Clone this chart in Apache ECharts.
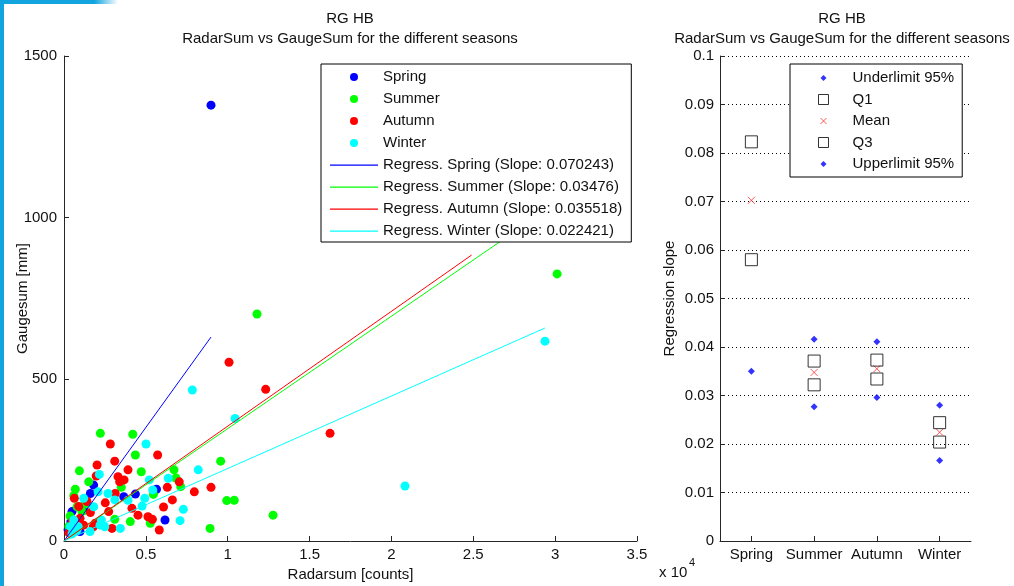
<!DOCTYPE html>
<html>
<head>
<meta charset="utf-8">
<script src="https://cdn.jsdelivr.net/npm/echarts@6/dist/echarts.min.js"></script>
<style>
html,body{margin:0;padding:0;background:#fff;}
#chart{width:1014px;height:586px;}
</style>
</head>
<body>
<div id="chart"></div>
<script>
// ---------- DATA ----------
const seasons = ['Spring', 'Summer', 'Autumn', 'Winter'];
const seasonColors = ['#0000ff', '#00ff00', '#ff0000', '#00ffff'];

// RadarSum [counts], GaugeSum [mm]
const springPts = [[8980,1348],[1810,173],[1610,147],[5650,160],[4360,145],[3650,137],[490,91],[6170,65],[980,29],[250,35],[420,60],[1200,95]];
const summerPts = [[30120,826],[11790,702],[12770,80],[2220,333],[4200,330],[4360,266],[940,217],[4720,214],[1510,183],[3500,166],[690,160],[9570,247],[6720,220],[6840,195],[7130,168],[5460,144],[9940,125],[10400,126],[8920,39],[1100,91],[3100,67],[4050,60],[5270,55],[800,106],[1280,114],[370,77],[600,140],[300,45]];
const autumnPts = [[10080,553],[12320,469],[16250,333],[2830,300],[5720,266],[3100,247],[2020,235],[3910,220],[1970,201],[3300,199],[3670,189],[3400,183],[3130,147],[630,132],[2520,118],[900,107],[1405,122],[4150,101],[6080,105],[1610,88],[2730,91],[4520,80],[5130,75],[5400,67],[1200,49],[1910,55],[2930,39],[5820,34],[7040,183],[6310,166],[8980,166],[7960,152],[6620,127],[980,70],[1790,44],[300,25],[500,60]];
const winterPts = [[29380,618],[20830,170],[7840,467],[10450,379],[5010,300],[2160,206],[5210,189],[2080,152],[2690,147],[5420,158],[1200,132],[3100,127],[3910,126],[4930,132],[1810,106],[4770,108],[590,65],[2280,65],[2490,44],[3440,39],[795,34],[8200,220],[6370,194],[7290,98],[7090,63],[400,45],[870,44],[1590,29],[490,22],[2200,49]];

// regression slopes and the RadarSum where each regression line ends
const slopes = [0.070243, 0.03476, 0.035518, 0.022421];
const lineEndX = [8980, 30120, 24900, 29380];

// Right panel: regression slope statistics per season
const underLimit = [0.0350, 0.0277, 0.0296, 0.0166];
const q1 = [0.0580, 0.0322, 0.0334, 0.0204];
const meanSlope = slopes;
const q3 = [0.0823, 0.0371, 0.0373, 0.0244];
const upperLimit = [0.1054, 0.0416, 0.0411, 0.0280];

// axis ticks
const xTicks = { min: 0, max: 35000, step: 5000 };
const yTicks = { min: 0, max: 1500, step: 500 };
const slopeTicks = { min: 0, max: 0.1, step: 0.01 };

// ---------- CHART ----------
const FONT = "'Liberation Sans', Arial, Helvetica, sans-serif";
const TXT = '#111';
const AX = '#262626';
const chart = echarts.init(document.getElementById('chart'), null, { renderer: 'canvas' });

const scatterSets = [springPts, summerPts, autumnPts, winterPts];
const regNames = seasons.map((s, i) => 'Regress. ' + s + ' (Slope: ' + slopes[i] + ')');

const series = [];
scatterSets.forEach((pts, i) => {
  series.push({
    name: seasons[i], type: 'scatter', xAxisIndex: 0, yAxisIndex: 0,
    data: pts, symbol: 'circle', symbolSize: 9,
    itemStyle: { color: seasonColors[i], opacity: 1 },
    emphasis: { disabled: true }
  });
});
slopes.forEach((s, i) => {
  series.push({
    name: regNames[i], type: 'line', xAxisIndex: 0, yAxisIndex: 0,
    data: [[0, 0], [lineEndX[i], s * lineEndX[i]]],
    showSymbol: false, symbol: 'none',
    lineStyle: { color: seasonColors[i], width: 1 },
    itemStyle: { color: seasonColors[i] },
    emphasis: { disabled: true }
  });
});

const dotIcon = 'path://M0,0M12,12M6,3L9,6L6,9L3,6Z';
const sqIcon = 'path://M0,0M12,12M1,1L11,1L11,11L1,11Z';
const xIcon = 'path://M0,0M12,12M3,3L9,9M9,3L3,9';
const lineIcon = 'path://M0,0M48,8M0,3.5L48,3.5L48,4.7L0,4.7Z';

const statDefs = [
  { name: 'Underlimit 95%', data: underLimit, symbol: 'diamond', size: 7, style: { color: '#0000ff' }, icon: dotIcon },
  { name: 'Q1', data: q1, symbol: 'rect', size: 12, style: { color: 'transparent', borderColor: '#000', borderWidth: 1 }, icon: sqIcon },
  { name: 'Mean', data: meanSlope, symbol: 'path://M0,0L10,10M10,0L0,10', size: 7, style: { color: 'transparent', borderColor: '#ff3030', borderWidth: 1 }, icon: xIcon },
  { name: 'Q3', data: q3, symbol: 'rect', size: 12, style: { color: 'transparent', borderColor: '#000', borderWidth: 1 }, icon: sqIcon },
  { name: 'Upperlimit 95%', data: upperLimit, symbol: 'diamond', size: 7, style: { color: '#0000ff' }, icon: dotIcon }
];
statDefs.forEach(d => {
  series.push({
    name: d.name, type: 'scatter', xAxisIndex: 1, yAxisIndex: 1,
    data: d.data, symbol: d.symbol, symbolSize: d.size, clip: true,
    itemStyle: d.style, emphasis: { disabled: true }
  });
});

const axisCommon = {
  axisLine: { show: true, onZero: false, lineStyle: { color: AX, width: 1 } },
  axisTick: { show: true, inside: true, length: 5, lineStyle: { color: AX, width: 1 } },
  axisLabel: { color: TXT, fontSize: 15, fontFamily: FONT, margin: 6, formatter: v => String(v) },
  nameTextStyle: { color: TXT, fontSize: 15, fontFamily: FONT },
  nameMoveOverlap: false,
  splitLine: { show: false },
  minorTick: { show: false }
};

const option = {
  animation: false,
  backgroundColor: '#fff',
  textStyle: { fontFamily: FONT },
  grid: [
    { left: 64, top: 56, width: 573, height: 485, containLabel: false, outerBoundsMode: 'none' },
    { left: 720, top: 56, width: 251, height: 485, containLabel: false, outerBoundsMode: 'none' }
  ],
  xAxis: [
    Object.assign({}, axisCommon, {
      type: 'value', gridIndex: 0, min: xTicks.min, max: xTicks.max, interval: xTicks.step,
      name: 'Radarsum [counts]', nameLocation: 'middle', nameGap: 26,
      axisLabel: Object.assign({}, axisCommon.axisLabel, { formatter: v => String(v / 10000) })
    }),
    Object.assign({}, axisCommon, {
      type: 'category', gridIndex: 1, data: seasons, boundaryGap: true,
      axisTick: Object.assign({}, axisCommon.axisTick, { alignWithLabel: true }),
      axisLabel: { color: TXT, fontSize: 15, fontFamily: FONT, margin: 6, interval: 0 }
    })
  ],
  yAxis: [
    Object.assign({}, axisCommon, {
      type: 'value', gridIndex: 0, min: yTicks.min, max: yTicks.max, interval: yTicks.step,
      name: 'Gaugesum [mm]', nameLocation: 'middle', nameGap: 34, nameRotate: 90,
      axisLabel: Object.assign({}, axisCommon.axisLabel, { margin: 7 })
    }),
    Object.assign({}, axisCommon, {
      type: 'value', gridIndex: 1, min: slopeTicks.min, max: slopeTicks.max, interval: slopeTicks.step,
      name: 'Regression slope', nameLocation: 'middle', nameGap: 43, nameRotate: 90,
      splitLine: { show: true, lineStyle: { color: '#000', width: 1, type: [1, 3] } }
    })
  ],
  legend: [
    {
      orient: 'vertical', left: 321, top: 64,
      itemWidth: 48, itemHeight: 8, itemGap: 6,
      padding: [5, 9, 3, 9],
      borderColor: '#000', borderWidth: 1, borderRadius: 0, backgroundColor: '#fff',
      selectedMode: false, z: 10,
      textStyle: { color: TXT, fontSize: 15, fontFamily: FONT, lineHeight: 16 },
      data: seasons.map((s, i) => ({ name: s, icon: 'circle', itemStyle: { color: seasonColors[i] } }))
        .concat(regNames.map((n, i) => ({ name: n, icon: lineIcon, itemStyle: { color: seasonColors[i], borderColor: seasonColors[i], borderWidth: 0 } })))
    },
    {
      orient: 'vertical', left: 790, top: 64,
      itemWidth: 48, itemHeight: 12, itemGap: 5.5,
      padding: [6, 8, 5, 27],
      borderColor: '#000', borderWidth: 1, borderRadius: 0, backgroundColor: '#fff',
      selectedMode: false, z: 10,
      itemStyle: { borderWidth: 1 },
      textStyle: { color: TXT, fontSize: 15, fontFamily: FONT, lineHeight: 16 },
      data: statDefs.map(d => ({ name: d.name, icon: d.icon }))
    }
  ],
  series: series,
  graphic: [
    { type: 'rect', left: 0, top: 0, shape: { x: 0, y: 0, width: 4, height: 586 }, style: { fill: '#12a4df' }, silent: true },
    { type: 'rect', left: 0, top: 0, shape: { x: 0, y: 0, width: 118, height: 4 },
      style: { fill: new echarts.graphic.LinearGradient(0, 0, 1, 0, [
        { offset: 0, color: '#12a4df' }, { offset: 0.8, color: '#12a4df' }, { offset: 1, color: 'rgba(18,164,223,0)' }]) }, silent: true },
    { type: 'text', x: 350, y: 19, silent: true, style: { text: 'RG HB', fill: TXT, font: '15px ' + FONT, textAlign: 'center', textVerticalAlign: 'middle' } },
    { type: 'text', x: 350, y: 39, silent: true, style: { text: 'RadarSum vs GaugeSum for the different seasons', fill: TXT, font: '15px ' + FONT, textAlign: 'center', textVerticalAlign: 'middle' } },
    { type: 'text', x: 842, y: 19, silent: true, style: { text: 'RG HB', fill: TXT, font: '15px ' + FONT, textAlign: 'center', textVerticalAlign: 'middle' } },
    { type: 'text', x: 842, y: 39, silent: true, style: { text: 'RadarSum vs GaugeSum for the different seasons', fill: TXT, font: '15px ' + FONT, textAlign: 'center', textVerticalAlign: 'middle' } },
    { type: 'text', x: 659, y: 573, silent: true, style: { text: 'x 10', fill: TXT, font: '15px ' + FONT, textAlign: 'left', textVerticalAlign: 'middle' } },
    { type: 'text', x: 689, y: 563, silent: true, style: { text: '4', fill: TXT, font: '11px ' + FONT, textAlign: 'left', textVerticalAlign: 'middle' } }
  ]
};
chart.setOption(option);
</script>
</body>
</html>
